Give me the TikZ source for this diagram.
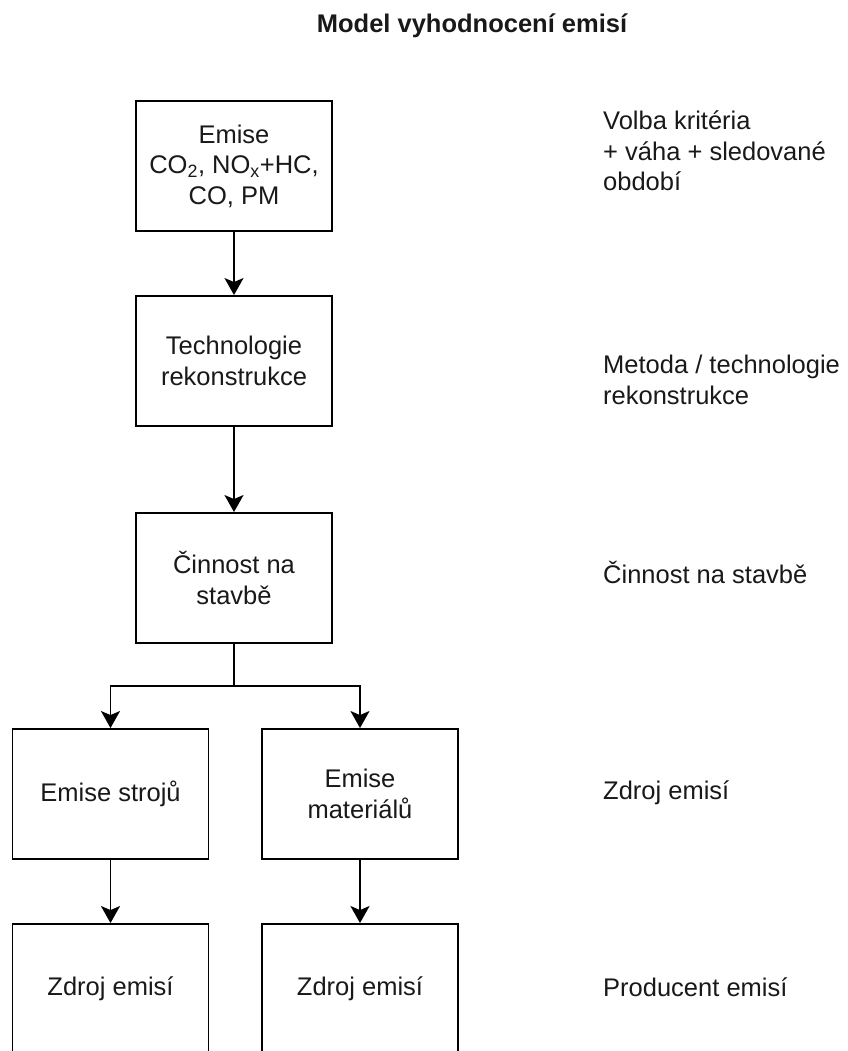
\documentclass[tikz,border=0pt]{standalone}
\usepackage{fontspec}
\setmainfont{Liberation Sans}
\usetikzlibrary{arrows.meta}
\begin{document}
\begin{tikzpicture}[x=1pt,y=-1pt,
  txt/.style={font=\fontsize{25.5}{30.5}\selectfont, text=black!90},
  stagebox/.style={txt, draw=black, line width=1.9pt, fill=white,
    minimum width=196pt, minimum height=130pt, inner sep=0pt, align=center},
  sidelabel/.style={txt, anchor=west, align=left, inner sep=0pt},
  arr/.style={line width=1.9pt, -{Stealth[length=17pt,width=19pt,inset=4pt]}},
  link/.style={line width=1.9pt}]
  \useasboundingbox (0,0) rectangle (847,1051);
  \clip (0,0) rectangle (847,1051);
  \fill[white] (0,0) rectangle (847,1051);

  % heading
  \node[txt, font=\fontsize{25.5}{30.5}\selectfont\bfseries] (title) at (472,26) {Model vyhodnocení emisí};

  % process chain
  \node[stagebox] (emise) at (234,166) {Emise\\CO\textsubscript{2}, NO\textsubscript{x}+HC,\\CO, PM};
  \node[stagebox] (tech)  at (234,361) {Technologie\\rekonstrukce};
  \node[stagebox] (cinn)  at (234,578) {Činnost na\\stavbě};
  \node[stagebox] (stroj) at (110.5,794) {Emise strojů};
  \node[stagebox] (mat)   at (360,794) {Emise\\materiálů};
  \node[stagebox] (zdrA)  at (110.5,989) {Zdroj emisí};
  \node[stagebox] (zdrB)  at (360,989) {Zdroj emisí};

  % connectors
  \draw[arr] (emise.south) -- (tech.north);
  \draw[arr] (tech.south) -- (cinn.north);
  \coordinate (split) at (234,686);
  \draw[link] (cinn.south) -- (split);
  \draw[arr] (split) -| (stroj.north);
  \draw[arr] (split) -| (mat.north);
  \draw[arr] (stroj.south) -- (zdrA.north);
  \draw[arr] (mat.south) -- (zdrB.north);

  % level descriptions
  \node[sidelabel] (l1) at (603,151) {Volba kritéria\\+ váha + sledované\\období};
  \node[sidelabel] (l2) at (603,380) {Metoda / technologie\\rekonstrukce};
  \node[sidelabel] (l3) at (603,572) {Činnost na stavbě};
  \node[sidelabel] (l4) at (603,793) {Zdroj emisí};
  \node[sidelabel] (l5) at (603,987) {Producent emisí};
\end{tikzpicture}
\end{document}
